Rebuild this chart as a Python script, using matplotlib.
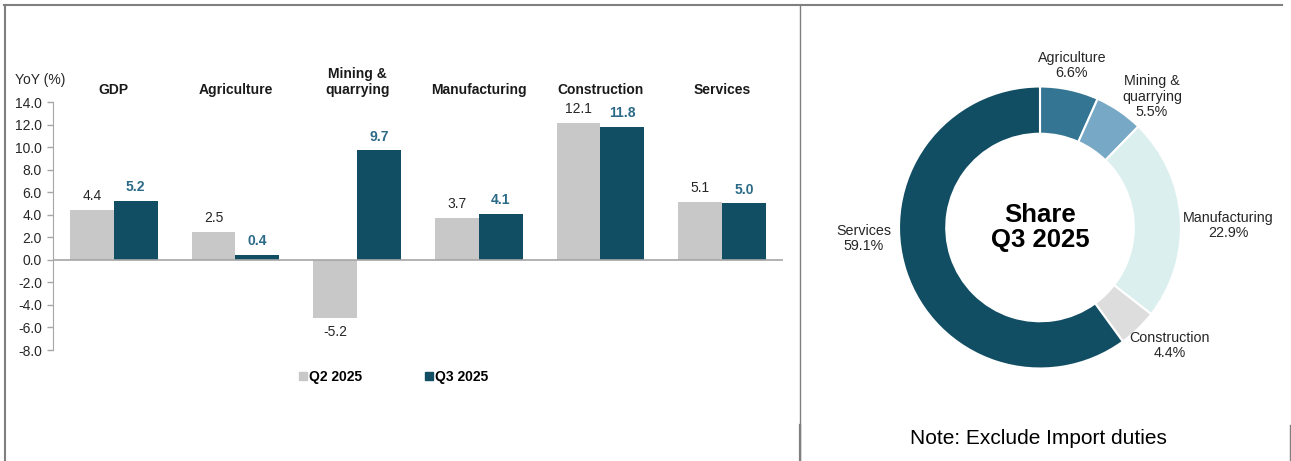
import numpy as np
import matplotlib.pyplot as plt
from matplotlib.lines import Line2D

plt.rcParams['font.family'] = ['Liberation Sans', 'DejaVu Sans']

# bar chart data
sectors = ['GDP', 'Agriculture', 'Mining &\nquarrying', 'Manufacturing', 'Construction', 'Services']
q2 = [4.4, 2.5, -5.2, 3.7, 12.1, 5.1]
q3 = [5.2, 0.4, 9.7, 4.1, 11.8, 5.0]
yticks = [14, 12, 10, 8, 6, 4, 2, 0, -2, -4, -6, -8]

# donut data
share_labels = ['Agriculture', 'Mining &\nquarrying', 'Manufacturing', 'Construction', 'Services']
share = [6.6, 5.5, 22.9, 4.4, 59.1]
share_colors = ['#357594', '#77A8C5', '#DCEFEF', '#DDDDDD', '#124E63']

W, H = 1291, 461
fig = plt.figure(figsize=(W / 100, H / 100), dpi=100)

def box(x0, y0, x1, y1):
    # pixel box (from top-left) -> figure fraction rect
    return [x0 / W, 1 - y1 / H, (x1 - x0) / W, (y1 - y0) / H]

gray = '#C8C8C8'
dark = '#124E63'
lab_dark = '#2B6A87'
txt = '#262626'

# ---- bar chart ----
ax = fig.add_axes(box(53, 102, 783, 350))
x = np.arange(len(sectors))
w = 0.36
ax.bar(x - w / 2, q2, w, color=gray, label='Q2 2025')
ax.bar(x + w / 2, q3, w, color=dark, label='Q3 2025')
ax.set_xlim(-0.5, len(sectors) - 0.5)
ax.set_ylim(-8, 14)
ax.set_yticks(yticks)
ax.set_yticklabels([f'{t:.1f}' for t in yticks], fontsize=10, color=txt)
ax.tick_params(axis='y', length=4, width=1, color='#A6A6A6', pad=4)
ax.set_xticks([])
for s in ['top', 'right', 'bottom']:
    ax.spines[s].set_visible(False)
ax.spines['left'].set_color('#A6A6A6')
ax.axhline(0, color='#A6A6A6', lw=1.2, zorder=3)

for i in range(len(sectors)):
    for val, off, col, wt in [(q2[i], -w / 2, txt, 'normal'), (q3[i], w / 2, lab_dark, 'bold')]:
        if val >= 0:
            ax.annotate(f'{val:.1f}', (x[i] + off, val), xytext=(0, 5), textcoords='offset points',
                        ha='center', va='bottom', fontsize=10, color=col, fontweight=wt)
        else:
            ax.annotate(f'{val:.1f}', (x[i] + off, val), xytext=(0, -5), textcoords='offset points',
                        ha='center', va='top', fontsize=10, color=col, fontweight=wt)
    ax.text(x[i], 14.75, sectors[i], ha='center', va='baseline', fontsize=10, fontweight='bold',
            color='#1a1a1a', clip_on=False, linespacing=1.15)

fig.text(40 / W, 1 - 80 / H, 'YoY (%)', ha='center', va='center', fontsize=10, color=txt)

# legend
fig.legend(handles=[Line2D([], [], marker='s', ls='', color=gray, markersize=6),
                    Line2D([], [], marker='s', ls='', color=dark, markersize=6)],
           labels=['Q2 2025', 'Q3 2025'], loc='center', bbox_to_anchor=(393 / W, 1 - 377 / H),
           ncol=2, frameon=False, prop={'weight': 'bold', 'size': 10}, handletextpad=0.05,
           columnspacing=4.4, handlelength=0.8)

# ---- donut ----
R = 141
ax2 = fig.add_axes(box(1040 - 160, 227.5 - 160, 1040 + 160, 227.5 + 160))
ax2.pie(share, colors=share_colors, startangle=90, counterclock=False, radius=1,
        wedgeprops=dict(width=0.335, edgecolor='white', linewidth=1.5))
lim = 160 / R
ax2.set_xlim(-lim, lim)
ax2.set_ylim(-lim, lim)
ax2.set_aspect('equal')
ax2.axis('off')

# label placement (pixel offsets from centre, converted to radius units)
label_pos = [(32, 162), (112, 131), (188, 2), (130, -118), (-176, -11)]
for lbl, v, (dx, dy) in zip(share_labels, share, label_pos):
    ax2.text(dx / R, dy / R, f'{lbl}\n{v:.1f}%', ha='center', va='center', fontsize=10.3,
             color=txt, linespacing=1.1, clip_on=False)
ax2.text(0, 0, 'Share\nQ3 2025', ha='center', va='center', fontsize=18.5, fontweight='bold',
         color='black', linespacing=1.1)

fig.text(1038 / W, 1 - 438 / H, 'Note: Exclude Import duties', ha='center', va='center',
         fontsize=15, color='black')

# ---- frame lines ----
fc = '#7F7F7F'
fig.add_artist(Line2D([4 / W, 1282 / W], [1 - 5.5 / H, 1 - 5.5 / H], color=fc, lw=1.5))
fig.add_artist(Line2D([5 / W, 5 / W], [0, 1 - 5 / H], color=fc, lw=1.5))
fig.add_artist(Line2D([799.5 / W, 799.5 / W], [0, 1 - 5 / H], color=fc, lw=1.0))
fig.add_artist(Line2D([799.5 / W, 799.5 / W], [0, 1 - 425 / H], color=fc, lw=1.6))
fig.add_artist(Line2D([1290 / W, 1290 / W], [0, 1 - 425 / H], color=fc, lw=1.0))

fig.savefig('out.png', dpi=100)
